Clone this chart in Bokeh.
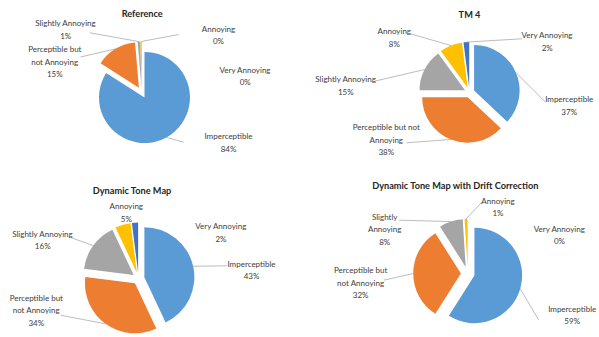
import math
from bokeh.plotting import figure
from bokeh.models import Range1d, ColumnDataSource
from bokeh.core.properties import value
from bokeh.embed import file_html
from bokeh.resources import INLINE

# ---------------- data ----------------
titles = ["Reference", "TM 4", "Dynamic Tone Map", "Dynamic Tone Map with Drift Correction"]
categories = ["Imperceptible", "Perceptible but not Annoying", "Slightly Annoying",
              "Annoying", "Very Annoying"]
reference_values = [84, 14.6, 0.9, 0.45, 0]
tm4_values = [37, 38, 15, 8, 2]
dtm_values = [43, 34, 16, 5, 2]
dtmdc_values = [59, 32, 8, 1, 0]

# label wording (line breaks as drawn in each chart)
reference_names = ["Imperceptible", "Perceptible but\nnot Annoying", "Slightly Annoying", "Annoying", "Very Annoying"]
tm4_names = ["Imperceptible", "Perceptible but not\nAnnoying", "Slightly Annoying", "Annoying", "Very Annoying"]
dtm_names = ["Imperceptible", "Perceptible but\nnot Annoying", "Slightly Annoying", "Annoying", "Very Annoying"]
dtmdc_names = ["Imperceptible", "Perceptible but\nnot Annoying", "Slightly\nAnnoying", "Annoying", "Very Annoying"]

colors = ["#5B9BD5", "#ED7D31", "#A5A5A5", "#FFC000", "#4472C4"]

# ---------------- layout (pixels) ----------------
centers = [(141.3, 92.1), (469.0, 92.0), (138.0, 278.0), (467.3, 273.0)]
radii = [45.5, 45.5, 50.0, 47.7]
explode = [5.6, 5.0, 6.0, 6.9]
title_pos = [(141.7, 12.5), (469.0, 14.0), (131.7, 189.7), (455.0, 184.7)]
label_pos = [
    [(228.0, 141.8), (54.3, 61.1), (65.2, 28.8), (218.0, 34.3), (244.7, 75.3)],
    [(568.7, 105.0), (385.8, 139.1), (345.3, 85.0), (393.8, 37.0), (546.7, 41.2)],
    [(251.0, 269.7), (35.8, 309.7), (42.2, 239.7), (125.8, 212.0), (220.5, 232.2)],
    [(571.7, 314.7), (360.2, 282.4), (384.2, 228.7), (497.5, 206.7), (559.0, 234.7)],
]
leader_end = [
    [(183.3, 141.7), (80.0, 56.5), (89.3, 32.3), (178.3, 34.0), None],
    [(545.0, 101.7), (406.0, 142.3), (374.0, 80.7), (410.0, 33.3), (521.7, 38.3)],
    [(226.7, 265.3), (60.0, 314.7), (71.0, 237.3), None, None],
    [(538.3, 319.7), (383.3, 279.7), (398.3, 219.7), (481.7, 201.3), None],
]

all_values = [reference_values, tm4_values, dtm_values, dtmdc_values]
all_names = [reference_names, tm4_names, dtm_names, dtmdc_names]

FONT = "Lato"
TEXT_COLOR = "#404040"

p = figure(width=599, height=337, x_range=Range1d(0, 599), y_range=Range1d(337, 0),
           output_backend="svg", toolbar_location=None, min_border=0,
           x_axis_type=None, y_axis_type=None)
p.grid.visible = False
p.outline_line_color = None
p.background_fill_color = "white"
p.border_fill_color = "white"

for k in range(4):
    vals = all_values[k]
    names = all_names[k]
    cx, cy = centers[k]
    r = radii[k]
    d = explode[k]
    total = float(sum(vals))
    wx, wy, sa, ea, wc = [], [], [], [], []
    lx0, ly0, lx1, ly1 = [], [], [], []
    tx, ty, tt = [], [], []
    cum = 0.0
    for i, v in enumerate(vals):
        t1 = cum / total * 2 * math.pi
        t2 = (cum + v) / total * 2 * math.pi
        tm = 0.5 * (t1 + t2)
        cum += v
        ox = cx + d * math.sin(tm)
        oy = cy - d * math.cos(tm)
        if v > 0:
            wx.append(ox); wy.append(oy)
            sa.append(math.pi / 2 - t2); ea.append(math.pi / 2 - t1)
            wc.append(colors[i])
        le = leader_end[k][i]
        if le is not None:
            lx0.append(ox + r * math.sin(tm)); ly0.append(oy - r * math.cos(tm))
            lx1.append(le[0]); ly1.append(le[1])
        pct = int(round(v / total * 100))
        tx.append(label_pos[k][i][0]); ty.append(label_pos[k][i][1])
        tt.append(f"{names[i]}\n{pct}%")
    p.wedge(x="x", y="y", radius=r, start_angle="sa", end_angle="ea",
            fill_color="c", line_color=None,
            source=ColumnDataSource(dict(x=wx, y=wy, sa=sa, ea=ea, c=wc)))
    if lx0:
        p.segment(x0=lx0, y0=ly0, x1=lx1, y1=ly1, line_color="#A6A6A6", line_width=0.75)
    p.text(x=tx, y=ty, text=tt, text_font=value(FONT), text_font_size="8px",
           text_align="center", text_baseline="middle", text_color=TEXT_COLOR,
           text_line_height=1.25)
    p.text(x=[title_pos[k][0]], y=[title_pos[k][1]], text=[titles[k]],
           text_font=value(FONT), text_font_size="9.2px", text_font_style="bold",
           text_align="center", text_baseline="middle", text_color="#262626")

open("out.html", "w").write(file_html(p, INLINE))
